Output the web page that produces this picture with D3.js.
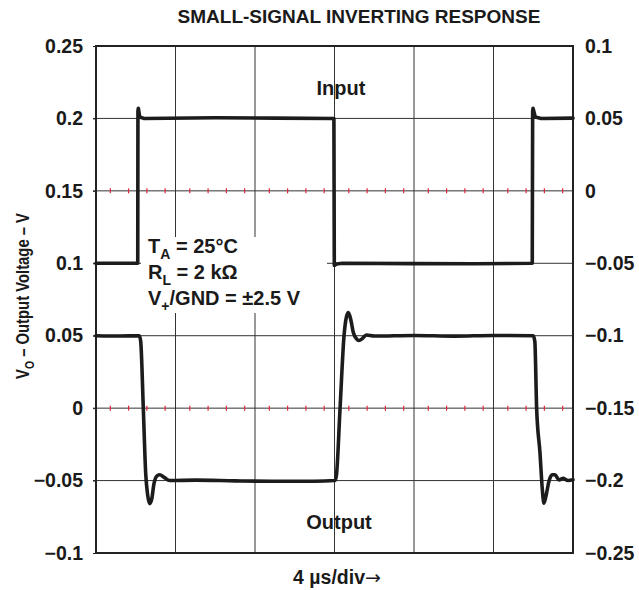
<!DOCTYPE html>
<html>
<head>
<meta charset="utf-8">
<script src="https://cdn.jsdelivr.net/npm/d3@7"></script>
<style>
  body { margin: 0; background: #fff; }
  svg { display: block; font-family: "Liberation Sans", Arial, sans-serif; font-weight: bold; }
  .grid line { stroke: #333; stroke-width: 1; }
  .trace { fill: none; stroke: #1c1c1c; stroke-width: 3.6; stroke-linejoin: round; stroke-linecap: round; }
</style>
</head>
<body>
<div class="chart"></div>
<script>
// axis ticks (left = output, right = input)
var leftTicks = [0.25, 0.2, 0.15, 0.1, 0.05, 0, -0.05, -0.1];
var rightTicks = [0.1, 0.05, 0, -0.05, -0.1, -0.15, -0.2, -0.25];
var divTicks = [0, 4, 8, 12, 16, 20, 24]; // µs, 4 µs/div

// input square wave (right axis, V) vs time (µs)
var inputT = [0, 2.1, 2.11, 2.13, 2.2, 2.4, 6, 9, 11.97, 11.99, 12.1, 12.4, 16, 19, 21.95, 21.97, 21.99, 22.1, 22.4, 24];
var inputV = [-0.05, -0.05, 0.055, 0.057, 0.051, 0.05, 0.0505, 0.0502, 0.05, -0.0515, -0.0505, -0.05, -0.0502, -0.0503, -0.05, 0.055, 0.057, 0.051, 0.05, 0.0502];

// output response (left axis, V) vs time (µs)
var outputT = [0, 1.2, 2.18, 2.25, 2.38, 2.5, 2.6, 2.7, 2.8, 2.92, 3.05, 3.2, 3.45, 3.7, 5, 7, 9, 11, 12.03,
  12.1, 12.28, 12.48, 12.6, 12.7, 12.82, 12.95, 13.1, 13.23, 13.4, 13.6, 14, 16, 18, 20, 22.0,
  22.08, 22.17, 22.34, 22.45, 22.54, 22.65, 22.8, 22.95, 23.09, 23.3, 23.5, 23.75, 24];
var outputV = [0.05, 0.0498, 0.05, 0.046, 0.0, -0.045, -0.06, -0.066, -0.063, -0.052, -0.047, -0.046, -0.048, -0.05, -0.0497, -0.0502, -0.0505, -0.0505, -0.05,
  -0.046, 0.0, 0.05, 0.063, 0.066, 0.061, 0.052, 0.048, 0.0467, 0.048, 0.0505, 0.0498, 0.0502, 0.0497, 0.0502, 0.05,
  0.046, 0.0, -0.031, -0.055, -0.0656, -0.06, -0.05, -0.046, -0.046, -0.0495, -0.0485, -0.05, -0.0495];

var width = 639, height = 590;
var margin = { top: 46, right: 66, bottom: 37, left: 96 };

var svg = d3.select(".chart").append("svg")
  .attr("width", width)
  .attr("height", height);

var x = d3.scaleLinear().domain([0, 24]).range([margin.left, width - margin.right]);
var yL = d3.scaleLinear().domain([-0.1, 0.25]).range([height - margin.bottom, margin.top]);
var yR = d3.scaleLinear().domain([-0.25, 0.1]).range([height - margin.bottom, margin.top]);

var fmt = function(d) {
  var s = d3.format("")(+d.toFixed(2));
  return s.replace("-", "\u2013");
};

// gridlines
var grid = svg.append("g").attr("class", "grid");
grid.selectAll(".gv").data(divTicks.slice(1, -1)).enter().append("line")
  .attr("x1", function(d) { return x(d); })
  .attr("x2", function(d) { return x(d); })
  .attr("y1", yL(0.25)).attr("y2", yL(-0.1));
grid.selectAll(".gh").data(leftTicks.slice(1, -1)).enter().append("line")
  .attr("x1", x(0) - 3).attr("x2", x(24))
  .attr("y1", function(d) { return yL(d); })
  .attr("y2", function(d) { return yL(d); });

// red minor ticks on the zero reference lines
var minorT = [];
divTicks.slice(0, -1).forEach(function(d) {
  [0.72, 1.64, 2.56, 3.48].forEach(function(f) { minorT.push(d + f); });
});
[0.15, 0].forEach(function(v) {
  svg.append("g").selectAll("line").data(minorT).enter().append("line")
    .attr("x1", function(d) { return x(d); })
    .attr("x2", function(d) { return x(d); })
    .attr("y1", yL(v) - 2.5).attr("y2", yL(v) + 2.5)
    .attr("stroke", "#e3263a").attr("stroke-width", 1.2);
});

// frame
svg.append("rect")
  .attr("x", x(0)).attr("y", yL(0.25))
  .attr("width", x(24) - x(0)).attr("height", yL(-0.1) - yL(0.25))
  .attr("fill", "none").attr("stroke", "#222").attr("stroke-width", 2);

// axes labels
var axL = svg.append("g").attr("transform", "translate(" + x(0) + ",0)")
  .call(d3.axisLeft(yL).tickValues(leftTicks).tickFormat(fmt).tickSize(3).tickPadding(10));
var axR = svg.append("g").attr("transform", "translate(" + x(24) + ",0)")
  .call(d3.axisRight(yR).tickValues(rightTicks).tickFormat(fmt).tickSize(0).tickPadding(12));
[axL, axR].forEach(function(a) {
  a.select(".domain").remove();
  a.selectAll("line").attr("stroke", "#222");
  a.selectAll("text").attr("font-size", 19.5).attr("font-family", "Liberation Sans, Arial, sans-serif")
    .attr("font-weight", "bold").attr("fill", "#1a1a1a");
});

// annotation box
svg.append("rect").attr("x", 141).attr("y", 237).attr("width", 186).attr("height", 76).attr("fill", "#fff");
var ann = svg.append("g").attr("font-size", 20).attr("fill", "#1a1a1a");
var t1 = ann.append("text").attr("x", 148).attr("y", 253);
t1.append("tspan").text("T");
t1.append("tspan").attr("font-size", 14).attr("dy", 6).text("A");
t1.append("tspan").attr("dy", -6).text(" = 25\u00b0C");
var t2 = ann.append("text").attr("x", 148).attr("y", 279);
t2.append("tspan").text("R");
t2.append("tspan").attr("font-size", 14).attr("dy", 6).text("L");
t2.append("tspan").attr("dy", -6).text(" = 2 k\u03a9");
var t3 = ann.append("text").attr("x", 148).attr("y", 305);
t3.append("tspan").text("V");
t3.append("tspan").attr("font-size", 14).attr("dy", 6).text("+");
t3.append("tspan").attr("dy", -6).text("/GND = \u00b12.5 V");

// traces
var lineIn = d3.line().x(function(d, i) { return x(inputT[i]); }).y(function(d) { return yR(d); });
var lineOut = d3.line().curve(d3.curveMonotoneX)
  .x(function(d, i) { return x(outputT[i]); }).y(function(d) { return yL(d); });
svg.append("path").attr("class", "trace").attr("d", lineIn(inputV));
svg.append("path").attr("class", "trace").attr("d", lineOut(outputV));

// labels
svg.append("text").attr("x", 341).attr("y", 95).attr("text-anchor", "middle")
  .attr("font-size", 20).attr("fill", "#1a1a1a").text("Input");
svg.append("text").attr("x", 339).attr("y", 529).attr("text-anchor", "middle")
  .attr("font-size", 20).attr("fill", "#1a1a1a").text("Output");
svg.append("text").attr("x", 359).attr("y", 23).attr("text-anchor", "middle")
  .attr("font-size", 19).attr("fill", "#1a1a1a").text("SMALL-SIGNAL INVERTING RESPONSE");
var xl = svg.append("text").attr("x", 337).attr("y", 584).attr("text-anchor", "middle")
  .attr("font-size", 19.5).attr("fill", "#1a1a1a");
xl.append("tspan").text("4 \u00b5s/div");
xl.append("tspan").attr("font-family", "DejaVu Sans").attr("font-weight", "normal")
  .attr("font-size", 19).text("\u2192");

var yt = svg.append("text").attr("transform", "translate(29," + 296 + ") rotate(-90)")
  .attr("text-anchor", "middle").attr("font-size", 18.5).attr("fill", "#1a1a1a")
  .attr("textLength", 166).attr("lengthAdjust", "spacingAndGlyphs");
yt.append("tspan").text("V");
yt.append("tspan").attr("font-size", 13).attr("dy", 5).text("O");
yt.append("tspan").attr("dy", -5).text(" \u2013 Output Voltage \u2013 V");
</script>
</body>
</html>
